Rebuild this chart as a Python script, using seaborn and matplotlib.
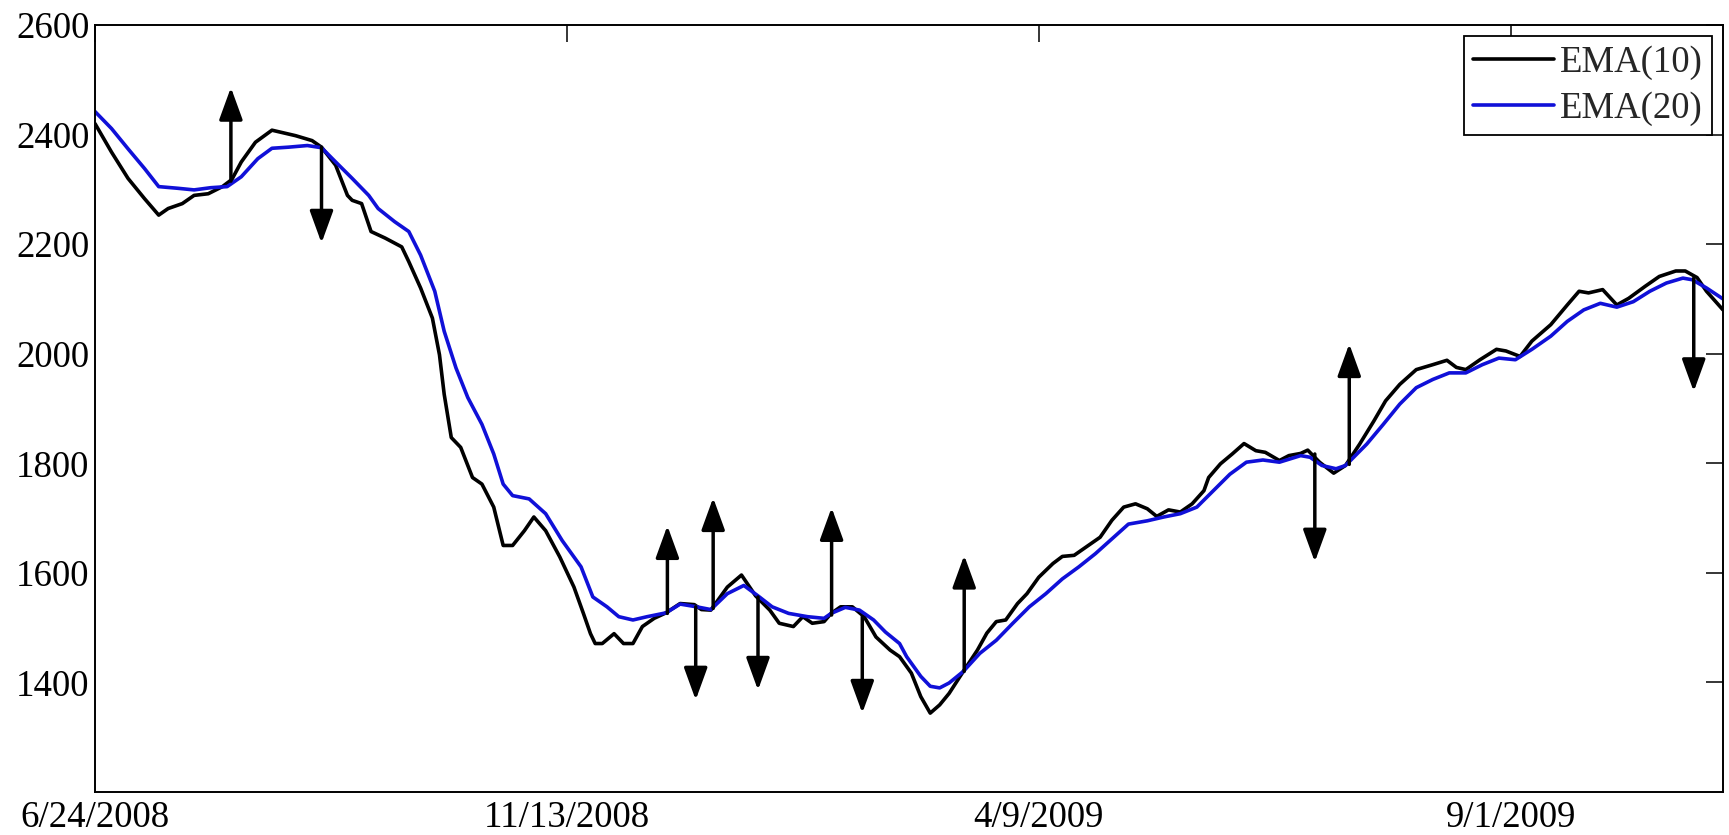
import numpy as np
import pandas as pd
import matplotlib
matplotlib.use("Agg")
import matplotlib.pyplot as plt
import seaborn as sns

# ---------------- data (trading-day index, value) ----------------
ema10_idx = [1, 4.5, 8, 11.5, 14.5, 16.5, 19.5, 22, 25, 28, 30, 32, 35, 38.5, 41.5, 43.5, 47, 49,
             52, 54.5, 55.5, 57.5, 59.5, 62.5, 66, 67.5, 70, 72.5, 74, 75, 76.5, 78.5, 81, 83,
             85.5, 87.5, 89.5, 92, 94, 96.5, 99.5, 102.5, 104.5, 106, 107, 108.5, 111, 113, 115,
             117, 119.5, 122, 125, 128, 129.5, 131.5, 135, 138, 141, 144, 146, 149, 151, 153,
             155.5, 157, 159, 161.5, 164, 166.5, 169.5, 171.5, 174, 176, 178, 180, 182, 185, 188,
             190, 192, 194, 196.5, 198.5, 201, 204, 206, 208.5, 211, 214, 216.5, 219, 221.5, 224,
             226, 228.5, 231, 233.5, 236, 237, 239.5, 242, 244.5, 247, 249, 252, 254, 256.5, 258,
             260.5, 263.5, 266, 269, 272, 274.5, 277.5, 281, 284.5, 287.5, 289.5, 291.5, 294.5,
             298, 300, 303, 305.5, 309.5, 313, 315.5, 317.5, 320.5, 323.5, 326, 329.5, 332.5,
             336, 338, 340.5, 342.5, 346]
ema10_val = [2420, 2368, 2320, 2283, 2253, 2265, 2274, 2289, 2292, 2305, 2318, 2350, 2386, 2408, 2402, 2398, 2389, 2377,
             2344, 2289, 2280, 2274, 2223, 2211, 2195, 2168, 2120, 2065, 1998, 1926, 1847, 1829, 1774, 1762,
             1720, 1650, 1650, 1677, 1702, 1677, 1629, 1574, 1526, 1489, 1471, 1471, 1489, 1471, 1471,
             1502, 1517, 1527, 1544, 1542, 1533, 1532, 1574, 1596, 1558, 1532, 1508, 1502, 1520, 1508,
             1511, 1526, 1538, 1538, 1520, 1483, 1459, 1447, 1417, 1374, 1344, 1359, 1380, 1420, 1459,
             1490, 1511, 1514, 1544, 1562, 1592, 1617, 1630, 1632, 1647, 1665, 1696, 1720, 1726, 1717,
             1703, 1715, 1711, 1726, 1750, 1774, 1799, 1817, 1836, 1823, 1820, 1805, 1814, 1818, 1824,
             1802, 1782, 1796, 1835, 1877, 1914, 1944, 1971, 1980, 1988, 1975, 1971, 1989,
             2008, 2005, 1995, 2023, 2053, 2089, 2114, 2111, 2117, 2089, 2101, 2123, 2141,
             2151, 2151, 2139, 2114, 2080]

ema20_idx = [1, 4.5, 8, 11.5, 14.5, 18.5, 22, 25.5, 29, 32, 35.5, 38.5, 42, 46, 49, 52, 55.5, 59, 61,
             64.5, 67.5, 70, 73, 75, 77.5, 80, 83, 85.5, 87.5, 89.5, 93, 96.5, 100, 104, 106.5,
             109.5, 112, 115, 118, 122, 125, 128.5, 131.5, 135, 138.5, 141.5, 144.5, 148, 152,
             155.5, 157, 160, 163, 166, 168.5, 171.5, 173, 176, 178, 180, 182, 185, 188.5, 192,
             195.5, 199, 202.5, 206, 209.5, 213, 216.5, 220, 224, 227.5, 231, 234.5, 238, 241.5,
             245, 248.5, 252, 256.5, 258.5, 261, 264, 266, 270.5, 274, 277.5, 281, 284.5, 288,
             291.5, 295, 298.5, 302, 305.5, 309.5, 313, 316.5, 320, 323.5, 327, 330.5, 334,
             337.5, 339.5, 342.5, 346]
ema20_val = [2442, 2411, 2374, 2338, 2305, 2302, 2299, 2303, 2305, 2323, 2356, 2375, 2377, 2380, 2376, 2350, 2320, 2289, 2265,
             2241, 2223, 2180, 2114, 2041, 1974, 1920, 1871, 1817, 1762, 1741, 1735, 1708, 1659, 1611, 1556,
             1538, 1520, 1514, 1520, 1527, 1543, 1538, 1533, 1562, 1577, 1558, 1538, 1526, 1520,
             1517, 1526, 1537, 1532, 1514, 1492, 1471, 1447, 1411, 1393, 1390, 1399, 1420, 1453, 1477,
             1508, 1538, 1562, 1589, 1611, 1635, 1662, 1689, 1695, 1702, 1708, 1720, 1750, 1780,
             1802, 1806, 1802, 1814, 1811, 1796, 1790, 1796, 1835, 1871, 1908, 1938, 1953, 1965,
             1965, 1980, 1992, 1989, 2008, 2032, 2059, 2080, 2092, 2085, 2095, 2114, 2129,
             2138, 2135, 2120, 2100]

# crossover signals: position, arrow base value, arrow tip value
arrow_idx = [29.8, 49, 122.3, 128.3, 132, 141.5, 157.1, 163.6, 185.2, 259.5, 266.8, 339.8]
arrow_start = [2315, 2377, 1526, 1538, 1535, 1556, 1523, 1520, 1420, 1817, 1798, 2138]
arrow_end = [2486, 2202, 1686, 1368, 1737, 1386, 1719, 1344, 1632, 1620, 2018, 1931]

tick_pos = [1, 101, 201, 301]
tick_labels = ["6/24/2008", "11/13/2008", "4/9/2009", "9/1/2009"]
y_ticks = [1400, 1600, 1800, 2000, 2200, 2400, 2600]

# ---------------- plot ----------------
sns.set_style("white")
plt.rcParams["font.family"] = ["Liberation Serif", "DejaVu Serif"]

df = pd.concat([
    pd.DataFrame({"x": ema10_idx, "y": ema10_val, "series": "EMA(10)"}),
    pd.DataFrame({"x": ema20_idx, "y": ema20_val, "series": "EMA(20)"}),
], ignore_index=True)

FS = 26.5
fig = plt.figure(figsize=(17.29, 8.35), dpi=100)
ax = fig.add_axes([95 / 1729, 1 - 792 / 835, (1723 - 95) / 1729, (792 - 25) / 835])

sns.lineplot(data=df, x="x", y="y", hue="series", estimator=None, sort=False,
             palette={"EMA(10)": "#000000", "EMA(20)": "#1010d8"}, linewidth=2.6, ax=ax)

for xi, y0, y1 in zip(arrow_idx, arrow_start, arrow_end):
    ax.annotate("", xy=(xi, y1), xytext=(xi, y0),
                arrowprops=dict(arrowstyle="-|>,head_length=1.1,head_width=0.4",
                                mutation_scale=18, color="black", lw=2.5,
                                shrinkA=0, shrinkB=0), zorder=5)

ax.set_xlim(1, 346)
ax.set_ylim(1200, 2600)
ax.set_xticks(tick_pos)
ax.set_xticklabels(tick_labels)
ax.set_yticks(y_ticks)
ax.set_xlabel("")
ax.set_ylabel("")
ax.tick_params(direction="in", length=12, width=1.1, top=True, right=True,
               labelsize=FS, colors="black")
ax.tick_params(axis="x", pad=6)
ax.tick_params(axis="y", pad=4)
for s in ax.spines.values():
    s.set_visible(True)
    s.set_color("black")
    s.set_linewidth(1.4)

handles, labels = ax.get_legend_handles_labels()
leg = ax.legend(handles, labels, loc="upper right", fontsize=FS, frameon=True,
                fancybox=False, framealpha=1, edgecolor="black", handlelength=2.2,
                handletextpad=0.15, labelspacing=0.32, borderpad=0.25, borderaxespad=0.3)
leg.get_frame().set_linewidth(1.3)
for line in leg.get_lines():
    line.set_linewidth(2.6)

fig.savefig("out.png", dpi=100)
